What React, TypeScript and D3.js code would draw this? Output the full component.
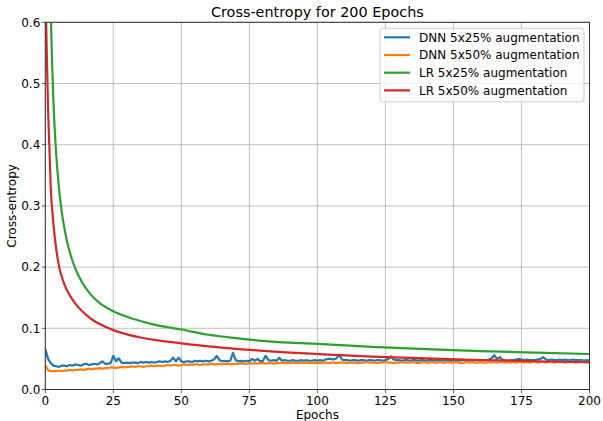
import React from "react";
import * as d3 from "d3";

// DNN losses, one value per epoch 0..200
const dnn25 = [
  0.066, 0.050, 0.043, 0.039, 0.038, 0.037, 0.039, 0.039, 0.038, 0.040,
  0.039, 0.041, 0.040, 0.039, 0.041, 0.042, 0.040, 0.041, 0.042, 0.041,
  0.043, 0.046, 0.042, 0.042, 0.043, 0.055, 0.046, 0.051, 0.044, 0.043,
  0.044, 0.043, 0.044, 0.044, 0.043, 0.045, 0.044, 0.045, 0.044, 0.045,
  0.044, 0.045, 0.046, 0.045, 0.046, 0.045, 0.047, 0.052, 0.046, 0.052,
  0.046, 0.045, 0.046, 0.046, 0.045, 0.047, 0.046, 0.047, 0.046, 0.047,
  0.046, 0.047, 0.049, 0.055, 0.048, 0.046, 0.047, 0.046, 0.047, 0.060,
  0.048, 0.046, 0.047, 0.046, 0.047, 0.046, 0.050, 0.047, 0.050, 0.046,
  0.047, 0.055, 0.048, 0.047, 0.048, 0.047, 0.052, 0.047, 0.048, 0.047,
  0.047, 0.048, 0.047, 0.047, 0.048, 0.047, 0.048, 0.047, 0.047, 0.048,
  0.047, 0.048, 0.047, 0.049, 0.050, 0.050, 0.049, 0.051, 0.057, 0.049,
  0.048, 0.048, 0.047, 0.048, 0.048, 0.047, 0.048, 0.048, 0.047, 0.048,
  0.048, 0.047, 0.048, 0.048, 0.047, 0.048, 0.050, 0.054, 0.049, 0.048,
  0.048, 0.047, 0.048, 0.048, 0.047, 0.048, 0.048, 0.047, 0.048, 0.048,
  0.047, 0.048, 0.048, 0.047, 0.048, 0.048, 0.047, 0.048, 0.048, 0.047,
  0.048, 0.048, 0.047, 0.048, 0.048, 0.047, 0.048, 0.047, 0.048, 0.048,
  0.047, 0.048, 0.048, 0.049, 0.051, 0.056, 0.050, 0.053, 0.049, 0.048,
  0.047, 0.048, 0.048, 0.049, 0.050, 0.049, 0.048, 0.049, 0.048, 0.048,
  0.048, 0.049, 0.050, 0.053, 0.049, 0.048, 0.049, 0.048, 0.048, 0.049,
  0.048, 0.049, 0.048, 0.048, 0.049, 0.048, 0.048, 0.048, 0.047, 0.048,
  0.047,
];

const dnn50 = [
  0.040, 0.032, 0.030, 0.030, 0.030, 0.031, 0.030, 0.031, 0.031, 0.032,
  0.031, 0.032, 0.032, 0.033, 0.032, 0.033, 0.034, 0.033, 0.034, 0.034,
  0.035, 0.034, 0.035, 0.035, 0.036, 0.036, 0.035, 0.036, 0.037, 0.036,
  0.037, 0.037, 0.038, 0.037, 0.038, 0.038, 0.037, 0.038, 0.038, 0.039,
  0.038, 0.039, 0.039, 0.038, 0.039, 0.040, 0.039, 0.040, 0.040, 0.039,
  0.040, 0.041, 0.040, 0.041, 0.040, 0.041, 0.041, 0.040, 0.041, 0.041,
  0.041, 0.042, 0.041, 0.041, 0.042, 0.041, 0.042, 0.042, 0.041, 0.042,
  0.042, 0.042, 0.043, 0.042, 0.042, 0.043, 0.042, 0.043, 0.042, 0.043,
  0.043, 0.042, 0.043, 0.043, 0.042, 0.043, 0.043, 0.044, 0.043, 0.043,
  0.043, 0.044, 0.043, 0.043, 0.044, 0.043, 0.044, 0.043, 0.044, 0.043,
  0.044, 0.043, 0.044, 0.044, 0.043, 0.044, 0.044, 0.043, 0.044, 0.044,
  0.044, 0.043, 0.044, 0.044, 0.044, 0.043, 0.044, 0.044, 0.045, 0.044,
  0.044, 0.044, 0.043, 0.044, 0.044, 0.045, 0.044, 0.044, 0.043, 0.044,
  0.044, 0.045, 0.044, 0.044, 0.044, 0.045, 0.044, 0.043, 0.044, 0.045,
  0.044, 0.044, 0.045, 0.044, 0.044, 0.045, 0.044, 0.044, 0.045, 0.044,
  0.044, 0.045, 0.044, 0.043, 0.044, 0.045, 0.044, 0.045, 0.044, 0.044,
  0.045, 0.044, 0.044, 0.045, 0.044, 0.045, 0.044, 0.045, 0.045, 0.044,
  0.045, 0.044, 0.045, 0.044, 0.045, 0.045, 0.044, 0.045, 0.044, 0.045,
  0.045, 0.044, 0.045, 0.045, 0.044, 0.045, 0.045, 0.044, 0.045, 0.045,
  0.045, 0.044, 0.045, 0.045, 0.045, 0.044, 0.045, 0.045, 0.045, 0.044,
  0.045,
];

// LR losses are smooth, read at these epochs
const lrEpochs = [0, 1, 2, 3, 4, 5, 6, 7, 8, 10, 12, 15, 18, 20, 25, 30, 35, 40, 50, 60, 70, 80, 90, 100, 120, 140, 160, 180, 200];
const lr25 = [1.3, 0.9, 0.62, 0.47, 0.385, 0.33, 0.292, 0.264, 0.242, 0.21, 0.188, 0.165, 0.149, 0.141, 0.128, 0.119, 0.112, 0.106, 0.098, 0.0895, 0.084, 0.0795, 0.0765, 0.0745, 0.0698, 0.0659, 0.0628, 0.0603, 0.058];
const lr50 = [0.66, 0.46, 0.33, 0.27, 0.23, 0.202, 0.185, 0.172, 0.162, 0.147, 0.135, 0.122, 0.112, 0.107, 0.097, 0.09, 0.085, 0.081, 0.0755, 0.0705, 0.0665, 0.0632, 0.0603, 0.058, 0.0538, 0.0507, 0.0482, 0.0462, 0.0445];

const xTicks = [0, 25, 50, 75, 100, 125, 150, 175, 200];
const yTicks = [0, 0.1, 0.2, 0.3, 0.4, 0.5, 0.6];

const series = [
  { name: "DNN 5x25% augmentation", color: "#1f77b4" },
  { name: "DNN 5x50% augmentation", color: "#ff7f0e" },
  { name: "LR 5x25% augmentation", color: "#2ca02c" },
  { name: "LR 5x50% augmentation", color: "#d62728" },
];

const W = 603, H = 421;
const margin = { top: 22.3, right: 13.5, bottom: 31.5, left: 45.3 };
const font = "DejaVu Sans, sans-serif";

export default function App() {
  const x = d3.scaleLinear().domain([0, 200]).range([margin.left, W - margin.right]);
  const y = d3.scaleLinear().domain([0, 0.6]).range([H - margin.bottom, margin.top]);

  const perEpoch = d3.line<number>().x((d, i) => x(i)).y(d => y(d));
  const smooth = d3.line<number>()
    .x((d, i) => x(lrEpochs[i]))
    .y(d => y(d))
    .curve(d3.curveMonotoneX);

  const paths = [perEpoch(dnn25), perEpoch(dnn50), smooth(lr25), smooth(lr50)];

  const x0 = x(0), x1 = x(200), y0 = y(0), y1 = y(0.6);

  return (
    <>
      <style>{`body{margin:0}`}</style>
      <svg width={W} height={H} style={{ display: "block", background: "#fff" }} fontFamily={font}>
        <defs>
          <clipPath id="plot">
            <rect x={x0} y={y1} width={x1 - x0} height={y0 - y1} />
          </clipPath>
        </defs>
        {/* grid */}
        {xTicks.map(t => (
          <line key={"gx" + t} x1={x(t)} x2={x(t)} y1={y1} y2={y0} stroke="#b0b0b0" strokeWidth={0.8} />
        ))}
        {yTicks.map(t => (
          <line key={"gy" + t} x1={x0} x2={x1} y1={y(t)} y2={y(t)} stroke="#b0b0b0" strokeWidth={0.8} />
        ))}
        {/* lines */}
        <g clipPath="url(#plot)">
          {paths.map((p, i) => (
            <path key={i} d={p || ""} fill="none" stroke={series[i].color} strokeWidth={2.2} strokeLinejoin="round" />
          ))}
        </g>
        {/* frame */}
        <rect x={x0} y={y1} width={x1 - x0} height={y0 - y1} fill="none" stroke="#333" strokeWidth={1} />
        {/* x axis */}
        {xTicks.map(t => (
          <g key={"tx" + t}>
            <line x1={x(t)} x2={x(t)} y1={y0} y2={y0 + 3.5} stroke="#333" strokeWidth={0.8} />
            <text x={x(t)} y={y0 + 15.5} textAnchor="middle" fontSize={12} fill="#000">{t}</text>
          </g>
        ))}
        {/* y axis */}
        {yTicks.map(t => (
          <g key={"ty" + t}>
            <line x1={x0 - 3.5} x2={x0} y1={y(t)} y2={y(t)} stroke="#333" strokeWidth={0.8} />
            <text x={x0 - 5} y={y(t) + 4.3} textAnchor="end" fontSize={12} fill="#000">{t.toFixed(1)}</text>
          </g>
        ))}
        <text x={(x0 + x1) / 2} y={418.5} textAnchor="middle" fontSize={12} fill="#000">Epochs</text>
        <text transform={`translate(16,${(y0 + y1) / 2}) rotate(-90)`} textAnchor="middle" fontSize={12} fill="#000">Cross-entropy</text>
        <text x={(x0 + x1) / 2} y={17} textAnchor="middle" fontSize={14.4} fill="#000">Cross-entropy for 200 Epochs</text>
        {/* legend */}
        <g>
          <rect x={380} y={28.3} width={204} height={73.5} rx={3} fill="#fff" fillOpacity={0.8} stroke="#ccc" strokeWidth={1} />
          {series.map((s, i) => (
            <g key={s.name} transform={`translate(384,${37.3 + i * 17.7})`}>
              <line x1={0} x2={26} y1={0} y2={0} stroke={s.color} strokeWidth={2.2} />
              <text x={35} y={4.3} fontSize={12} fill="#000">{s.name}</text>
            </g>
          ))}
        </g>
      </svg>
    </>
  );
}
